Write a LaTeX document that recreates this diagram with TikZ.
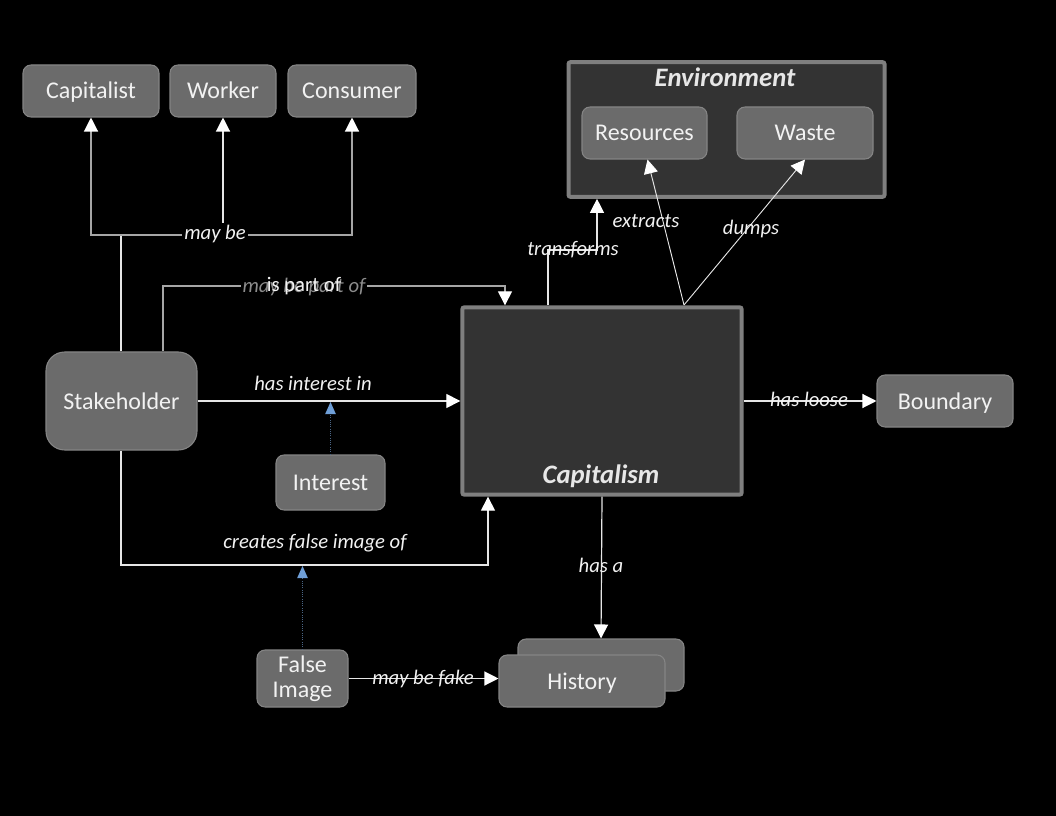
\documentclass[tikz,border=0pt]{standalone}
\usepackage{fontspec}
\setmainfont{Carlito}
\usetikzlibrary{arrows.meta,calc}
\definecolor{boxfill}{HTML}{6B6B6B}
\definecolor{boxline}{HTML}{858585}
\definecolor{darkfill}{HTML}{333333}
\definecolor{darkline}{HTML}{7F7F7F}
\definecolor{txt}{HTML}{F2F2F2}
\definecolor{wline}{HTML}{E6E6E6}
\definecolor{gline}{HTML}{A6A6A6}
\definecolor{blueh}{HTML}{6F9FD8}
\definecolor{bluel}{HTML}{4A6585}
\definecolor{graytxt}{HTML}{8C8C8C}
\tikzset{
  box/.style={draw=boxline, line width=0.8pt, fill=boxfill, rounded corners=6pt,
    text=txt, font=\fontsize{18}{19}\selectfont, inner sep=0pt, align=center},
  onel/.style={text height=15pt, text depth=3pt},
  container/.style={draw=darkline, line width=3pt, fill=darkfill, rounded corners=1.5pt, inner sep=0pt},
  title/.style={text=txt!90!gray, font=\fontsize{20}{22}\selectfont\bfseries\itshape, inner sep=0pt},
  elabel/.style={text=txt, font=\fontsize{15.5}{17}\selectfont\itshape, inner sep=1.5pt},
  conn/.style={draw=wline, line width=0.9pt},
  gconn/.style={draw=gline, line width=0.9pt},
  arr/.style={-{Triangle[width=10.5pt,length=10.5pt,fill=white,color=white]}},
  barr/.style={draw=bluel, line width=0.7pt, densely dotted,
    -{Triangle[width=8pt,length=9pt,fill=blueh,line width=0pt,color=blueh]}}
}
\begin{document}
\begin{tikzpicture}[x=0.75pt,y=-0.75pt]
\useasboundingbox (0,0) rectangle (1056,816);
\fill[black] (0,0) rectangle (1056,816);

% containers
\node[container, minimum width=237pt, minimum height=101pt] (env) at (726.5,129.5) {};
\node[title] (envt) at (725,77) {Environment};
\node[container, minimum width=209.5pt, minimum height=140.5pt] (capm) at (602,401) {};
\node[title] (capmt) at (601,476) {Capitalism};

% boxes
\node[box, onel, minimum width=102pt, minimum height=39pt] (capitalist) at (91,91) {Capitalist};
\node[box, onel, minimum width=79.5pt, minimum height=39pt] (worker) at (223,91) {Worker};
\node[box, onel, minimum width=96pt, minimum height=39pt] (consumer) at (352,91) {Consumer};
\node[box, onel, minimum width=93.75pt, minimum height=39pt] (resources) at (644.5,133) {Resources};
\node[box, onel, minimum width=102pt, minimum height=39pt] (waste) at (805,133) {Waste};
\node[box, onel, minimum width=113.25pt, minimum height=73.5pt, rounded corners=14pt] (stake) at (121.5,401) {Stakeholder};
\node[box, onel, minimum width=81.75pt, minimum height=41.25pt] (interest) at (330.5,482.5) {Interest};
\node[box, onel, minimum width=102pt, minimum height=39pt] (boundary) at (945,401) {Boundary};
\node[box, minimum width=68.25pt, minimum height=42.75pt] (fimg) at (302.5,678.5) {False\\Image};
\node[box, minimum width=124.5pt, minimum height=39pt] (histb) at (601,665) {};
\node[box, onel, minimum width=124.5pt, minimum height=39pt] (hist) at (582,681) {History};

% coordinates for bends
\coordinate (mbj) at (121,235);
\coordinate (ip1) at (163,286);
\coordinate (ip2) at (505,286);
\coordinate (hie) at (330.5,402);
\coordinate (cf1) at (121,565);
\coordinate (cf2) at (488,565);
\coordinate (cfe) at (302.5,566);
\coordinate (tr1) at (548,250);
\coordinate (tr2) at (597,250);
\coordinate (ex) at (684,305);
\coordinate (resend) at ($(resources.south)+(3,0)$);

% may be
\draw[conn] (stake.north -| mbj) -- (mbj);
\draw[gconn, arr] (mbj) -| (capitalist.south);
\draw[gconn, arr] (mbj) -| (consumer.south);
\draw[conn, arr] (worker.south |- mbj) -- (worker.south);
\node[elabel, fill=black] (lmb) at (215,234) {may be};

% is part of / may be part of
\draw[gconn, arr] (stake.north -| ip1) -- (ip1) -- (ip2) -- (ip2 |- capm.north);
\node[elabel, fill=black, text=graytxt] (lmpo) at (304,287) {may be part of};
\node[elabel, font=\fontsize{15.5}{17}\selectfont\upshape] (lipo) at (304,286) {is part of};

% has interest in
\draw[conn, arr] (stake.east) -- (capm.west);
\node[elabel] (lhi) at (313,383) {has interest in};
\draw[barr] (interest.north) -- (hie);

% creates false image of
\draw[conn, arr] (stake.south -| cf1) -- (cf1) -- (cf2) -- (cf2 |- capm.south);
\node[elabel] (lcf) at (315,543) {creates false image of};
\draw[barr] (fimg.north) -- (cfe);

% transforms
\draw[conn, arr] (capm.north -| tr1) -- (tr1) -- (tr2) -- (tr2 |- env.south);
\node[elabel] (ltr) at (573,250) {transforms};

% extracts, dumps
\draw[conn, line width=0.7pt, arr] (ex) -- (resend);
\draw[conn, line width=0.7pt, arr] (ex) -- (waste.south);
\node[elabel] (lex) at (646,221) {extracts};
\node[elabel] (ldu) at (751,229) {dumps};

% has loose
\draw[conn, arr] (capm.east) -- (boundary.west);
\node[elabel] (lhl) at (809,399) {has loose};

% has a
\draw[conn, arr] (capm.south) -- (histb.north);
\node[elabel] (lha) at (601,565) {has a};

% may be fake
\draw[conn, arr] (fimg.east) -- (fimg.east -| hist.west);
\node[elabel] (lmf) at (423,679) {may be fake};
\end{tikzpicture}
\end{document}
